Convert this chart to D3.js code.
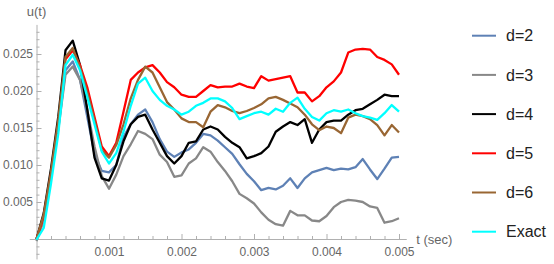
<!DOCTYPE html>
<html>
<head>
<meta charset="utf-8">
<script src="https://cdn.jsdelivr.net/npm/d3@7"></script>
<style>
  body { margin: 0; background: #fff; }
  text { font-family: 'Liberation Sans', Arial, sans-serif; }
</style>
</head>
<body>
<div class="chart-holder"></div>
<script>
// time grid step (sec), one value every 0.0001 s from 0 to 0.005
let tStep = 0.0001

let d2 = [0, 0.003, 0.0088, 0.015, 0.0228, 0.024, 0.0215, 0.0165, 0.0115, 0.0092,
  0.009, 0.01, 0.0138, 0.0155, 0.0168, 0.0175, 0.0158, 0.0135, 0.0118, 0.0111,
  0.0117, 0.0121, 0.013, 0.0142, 0.014, 0.0133, 0.0124, 0.0115, 0.0101, 0.0088,
  0.0078, 0.0066, 0.0069, 0.0067, 0.0072, 0.0082, 0.0069, 0.0082, 0.009, 0.0093,
  0.0096, 0.0093, 0.0095, 0.0094, 0.0097, 0.0108, 0.0094, 0.0081, 0.0095, 0.011, 0.0111]

let d3v = [-0.0003, 0.0025, 0.0085, 0.0148, 0.0222, 0.0233, 0.0215, 0.0175, 0.0125, 0.0085,
  0.0068, 0.0087, 0.0112, 0.0128, 0.0146, 0.0142, 0.0135, 0.0114, 0.0104, 0.0084,
  0.0086, 0.0102, 0.0109, 0.0124, 0.0118, 0.0104, 0.0092, 0.0078, 0.0061, 0.0055,
  0.0048, 0.0036, 0.0026, 0.002, 0.0018, 0.0038, 0.0032, 0.0032, 0.0025, 0.0024,
  0.0031, 0.0043, 0.005, 0.0053, 0.0052, 0.005, 0.0044, 0.0042, 0.0022, 0.0024, 0.0028]

let d4 = [0, 0.0035, 0.0095, 0.0165, 0.0255, 0.0268, 0.0235, 0.0175, 0.011, 0.0082,
  0.0079, 0.01, 0.0132, 0.0155, 0.0165, 0.0168, 0.0148, 0.013, 0.0112, 0.0102,
  0.0112, 0.013, 0.0132, 0.0148, 0.0152, 0.0148, 0.0138, 0.013, 0.0124, 0.0109,
  0.0112, 0.0116, 0.0125, 0.0145, 0.0152, 0.0158, 0.0154, 0.0162, 0.013, 0.0148,
  0.0158, 0.016, 0.016, 0.0168, 0.0174, 0.0176, 0.0182, 0.0188, 0.0195, 0.0193, 0.0193]

let d5 = [0, 0.003, 0.0088, 0.0155, 0.0243, 0.0255, 0.0235, 0.0205, 0.0165, 0.0125,
  0.0112, 0.013, 0.0172, 0.0215, 0.0225, 0.0232, 0.0235, 0.0225, 0.0212, 0.0205,
  0.0195, 0.0192, 0.0192, 0.02, 0.0208, 0.0205, 0.0206, 0.0206, 0.021, 0.0206,
  0.0204, 0.022, 0.0214, 0.0216, 0.0218, 0.022, 0.0198, 0.0198, 0.0186, 0.0193,
  0.0205, 0.0213, 0.0225, 0.0252, 0.0256, 0.0257, 0.0256, 0.0246, 0.0242, 0.0236, 0.0222]

let d6 = [0, 0.0033, 0.009, 0.016, 0.0246, 0.0258, 0.0232, 0.0198, 0.016, 0.012,
  0.011, 0.0127, 0.0155, 0.019, 0.0215, 0.0233, 0.0225, 0.0205, 0.0185, 0.0175,
  0.0163, 0.0158, 0.0158, 0.0151, 0.0172, 0.0181, 0.0178, 0.0173, 0.017, 0.0173,
  0.0177, 0.0182, 0.019, 0.0192, 0.0188, 0.0183, 0.0178, 0.0168, 0.0155, 0.0147,
  0.0152, 0.015, 0.0143, 0.0164, 0.0168, 0.0166, 0.0162, 0.0154, 0.014, 0.0154, 0.0144]

let exact = [-0.0001, 0.0015, 0.0075, 0.0142, 0.0235, 0.0249, 0.0228, 0.0192, 0.0155, 0.0118,
  0.0102, 0.0116, 0.0145, 0.018, 0.021, 0.0218, 0.02, 0.0188, 0.018, 0.0175,
  0.0168, 0.0172, 0.018, 0.0184, 0.019, 0.019, 0.0186, 0.0177, 0.0162, 0.0166,
  0.017, 0.0172, 0.0168, 0.0176, 0.0172, 0.0184, 0.0191, 0.0176, 0.0165, 0.016,
  0.017, 0.0174, 0.0172, 0.0175, 0.017, 0.0166, 0.0164, 0.0161, 0.017, 0.0181, 0.0172]

let seriesNames = ['d=2', 'd=3', 'd=4', 'd=5', 'd=6', 'Exact']
let seriesColors = ['#5e81b5', '#888888', '#000000', '#ff0000', '#996633', '#00ffff']
let seriesValues = [d2, d3v, d4, d5, d6, exact]

let xTicks = [0.001, 0.002, 0.003, 0.004, 0.005]
let yTicks = [0.005, 0.010, 0.015, 0.020, 0.025]

let width = 554
let height = 264

let svg = d3.select('.chart-holder')
  .append('svg')
    .attr('width', width)
    .attr('height', height)

let x = d3.scaleLinear().domain([0, 0.005]).range([36.5, 399])
let y = d3.scaleLinear().domain([0, 0.025]).range([239, 54])

// axis scales span the full plot range
let xAxisScale = x.copy().domain([-0.0001, 0.0051]).range([x(-0.0001), x(0.0051)])
let yAxisScale = y.copy().domain([-0.0027, 0.029]).range([y(-0.0027), y(0.029)])

let xMinor = d3.range(1, 26).map(i => i * 0.0002).filter(v => !xTicks.some(t => Math.abs(t - v) < 1e-9))
let yMinor = d3.range(-2, 29).map(i => i * 0.001).filter(v => v !== 0 && !yTicks.some(t => Math.abs(t - v) < 1e-9))

let axisColor = '#b0b0b0'

let gx = svg.append('g').attr('class', 'x-axis')
  .attr('transform', 'translate(0,' + y(0) + ')')
gx.call(d3.axisBottom(xAxisScale).tickValues(xTicks).tickFormat(d3.format('.3f'))
  .tickSizeInner(-5).tickSizeOuter(0).tickPadding(8.5))
gx.append('g').call(d3.axisBottom(xAxisScale).tickValues(xMinor).tickFormat('')
  .tickSizeInner(-3).tickSizeOuter(0))
  .select('.domain').remove()

let gy = svg.append('g').attr('class', 'y-axis')
  .attr('transform', 'translate(' + x(0) + ',0)')
gy.call(d3.axisLeft(yAxisScale).tickValues(yTicks).tickFormat(d3.format('.3f'))
  .tickSizeInner(-5).tickSizeOuter(0).tickPadding(3.5))
gy.append('g').call(d3.axisLeft(yAxisScale).tickValues(yMinor).tickFormat('')
  .tickSizeInner(-3).tickSizeOuter(0))
  .select('.domain').remove()

svg.selectAll('.x-axis path, .x-axis line, .y-axis path, .y-axis line')
  .attr('stroke', axisColor)
svg.selectAll('.x-axis text, .y-axis text')
  .attr('fill', '#666')
  .style('font-size', '12px')
  .style('font-family', "'Liberation Sans', Arial, sans-serif")

svg.append('text')
  .attr('x', x(0))
  .attr('y', 15.5)
  .attr('text-anchor', 'middle')
  .attr('fill', '#666')
  .style('font-size', '13px')
  .text('u(t)')

svg.append('text')
  .attr('x', xAxisScale(0.0051) + 10)
  .attr('y', y(0) + 4.5)
  .attr('fill', '#666')
  .style('font-size', '13px')
  .text('t (sec)')

let line = d3.line()
  .x((d, i) => x(i * tStep))
  .y(d => y(d))

svg.append('g').attr('class', 'lines')
  .selectAll('path')
  .data(seriesValues)
  .enter()
  .append('path')
    .attr('d', d => line(d))
    .attr('fill', 'none')
    .attr('stroke', (d, i) => seriesColors[i])
    .attr('stroke-width', 2.3)
    .attr('stroke-linejoin', 'round')

let legend = svg.append('g').attr('class', 'legend')
  .selectAll('g')
  .data(seriesNames)
  .enter()
  .append('g')
    .attr('transform', (d, i) => 'translate(472,' + (35.7 + i * 39.2) + ')')

legend.append('line')
  .attr('x1', 0).attr('x2', 24)
  .attr('y1', 0).attr('y2', 0)
  .attr('stroke', (d, i) => seriesColors[i])
  .attr('stroke-width', 2)

legend.append('text')
  .attr('x', 34)
  .attr('y', 0)
  .attr('dy', '0.36em')
  .attr('fill', '#222')
  .style('font-size', '16px')
  .text(d => d)
</script>
</body>
</html>
